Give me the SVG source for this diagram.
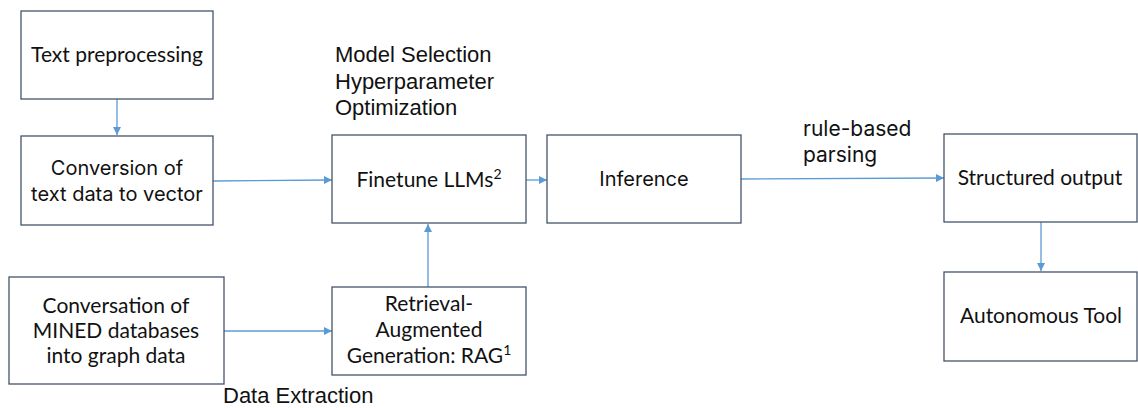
<svg xmlns="http://www.w3.org/2000/svg" width="1138" height="408" viewBox="0 0 1138 408">
<style>
.box{fill:#fff;stroke:#44546a;stroke-width:1.3}
.c{font-family:Lato,"Noto Sans",sans-serif;font-size:21px;fill:#111;text-anchor:middle}
.s{font-family:Inter,"Noto Sans",sans-serif;font-size:20px;fill:#111;text-anchor:middle}
.a{font-family:"Liberation Sans",Arial,sans-serif;font-size:22px;fill:#111}
.i{font-family:Inter,"Noto Sans",sans-serif;font-size:21px;fill:#111}
.ln{fill:none;stroke:#5b9bd5;stroke-width:1.3;marker-end:url(#ah)}
</style>
<defs>
<marker id="ah" viewBox="0 0 10 10" refX="10" refY="5" markerWidth="8" markerHeight="8" markerUnits="userSpaceOnUse" orient="auto">
<path d="M0,0 L10,5 L0,10 z" fill="#5b9bd5"/>
</marker>
</defs>
<rect width="1138" height="408" fill="#fff"/>
<g id="connectors">
<line class="ln" x1="117" y1="99" x2="117" y2="135"/>
<line class="ln" x1="213" y1="181" x2="332" y2="180"/>
<line class="ln" x1="526" y1="180" x2="547" y2="180"/>
<line class="ln" x1="741" y1="179" x2="944" y2="178"/>
<line class="ln" x1="1041" y1="222" x2="1041" y2="271"/>
<line class="ln" x1="224" y1="331" x2="332" y2="331"/>
<line class="ln" x1="428" y1="287" x2="428" y2="224"/>
</g>
<g id="text-preprocessing">
<rect class="box" x="21" y="11" width="192" height="88"/>
<text class="c" x="117" y="62">Text preprocessing</text>
</g>
<g id="conversion">
<rect class="box" x="21" y="136" width="192" height="89"/>
<text class="s" x="117" y="175">Conversion of</text>
<text class="s" x="117" y="201">text data to vector</text>
</g>
<g id="conversation">
<rect class="box" x="9" y="277" width="215" height="107"/>
<text class="c" x="116" y="313">Conversation of</text>
<text class="c" x="116" y="338">MINED databases</text>
<text class="c" x="116" y="363">into graph data</text>
</g>
<g id="finetune">
<rect class="box" x="332" y="135" width="194" height="88"/>
<text class="c" x="429" y="187">Finetune LLMs<tspan font-size="14" dy="-8">2</tspan></text>
</g>
<g id="rag">
<rect class="box" x="332" y="287" width="194" height="88"/>
<text class="c" x="429" y="311">Retrieval-</text>
<text class="c" x="429" y="337">Augmented</text>
<text class="c" x="429" y="363">Generation: RAG<tspan font-size="14" dy="-8">1</tspan></text>
</g>
<g id="inference">
<rect class="box" x="547" y="135" width="194" height="88"/>
<text class="s" x="644" y="186">Inference</text>
</g>
<g id="structured-output">
<rect class="box" x="944" y="134" width="193" height="88"/>
<text class="c" x="1040" y="185">Structured output</text>
</g>
<g id="autonomous-tool">
<rect class="box" x="944" y="272" width="193" height="89"/>
<text class="c" x="1041" y="323">Autonomous Tool</text>
</g>
<g id="labels">
<text class="a" x="335" y="62">Model Selection</text>
<text class="a" x="335" y="88.5">Hyperparameter</text>
<text class="a" x="335" y="115">Optimization</text>
<text class="i" x="803" y="136">rule-based</text>
<text class="i" x="803" y="162">parsing</text>
<text class="a" x="223" y="403">Data Extraction</text>
</g>
</svg>
